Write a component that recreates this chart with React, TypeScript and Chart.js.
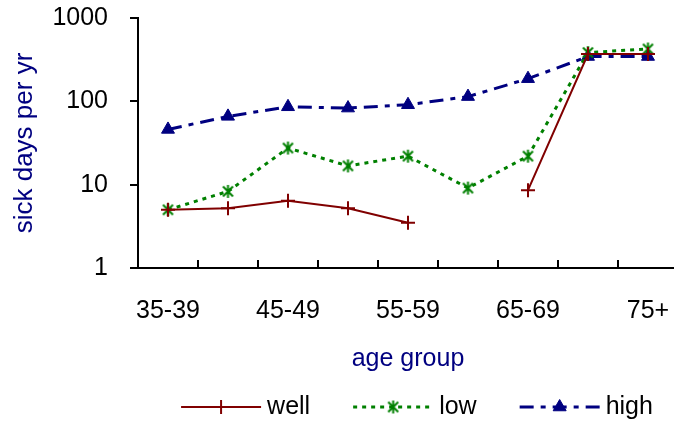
import React, { useEffect, useRef } from 'react';
import { Chart, registerables } from 'chart.js';
import { drawPoint } from 'chart.js/helpers';

Chart.register(...registerables);

const categories = ['35-39', '40-44', '45-49', '50-54', '55-59', '60-64', '65-69', '70-74', '75+'];
const shownXLabels = ['35-39', '45-49', '55-59', '65-69', '75+'];
const wellValues = [5, 5.2, 6.4, 5.2, 3.5, null, 8.6, 370, 370];
const lowValues = [5, 8.3, 27.5, 16.8, 22, 9.1, 22, 385, 425];
const highValues = [46, 66, 86, 83, 91, 114, 187, 345, 345];
const yTickValues = [1, 10, 100, 1000];
const seriesNames = ['well', 'low', 'high'];

const FONT = "'Liberation Sans', Arial, sans-serif";
const CANVAS_W = 687;
const CANVAS_H = 425;
const PLOT_LEFT = 138;
const PLOT_BOTTOM = 268;
const TRANSPARENT = 'rgba(0,0,0,0)';

function makeAsterisk(color: string): HTMLCanvasElement {
  const size = 15;
  const c = document.createElement('canvas');
  c.width = size;
  c.height = size;
  const g = c.getContext('2d')!;
  g.strokeStyle = color;
  g.lineWidth = 2;
  const m = size / 2;
  const r = 6.5;
  const d = 5;
  g.beginPath();
  g.moveTo(m, m - r);
  g.lineTo(m, m + r);
  g.moveTo(m - d, m - d);
  g.lineTo(m + d, m + d);
  g.moveTo(m + d, m - d);
  g.lineTo(m - d, m + d);
  g.stroke();
  return c;
}

export default function App() {
  const ref = useRef<HTMLCanvasElement>(null);

  useEffect(() => {
    if (!ref.current) return;
    const asterisk = makeAsterisk('#008000');

    const customPlugin = {
      id: 'customDecor',
      afterDraw(chart: any) {
        const ctx = chart.ctx as CanvasRenderingContext2D;
        const xs = chart.scales.x;
        const ys = chart.scales.y;
        const area = chart.chartArea;
        ctx.save();
        ctx.strokeStyle = '#000';
        ctx.lineWidth = 2;
        ctx.beginPath();
        // x tick marks pointing inward, at category boundaries
        for (let i = 0; i <= categories.length; i++) {
          const px = Math.round(xs.getPixelForValue(i - 0.5));
          ctx.moveTo(px, area.bottom);
          ctx.lineTo(px, area.bottom - 8);
        }
        // y tick marks pointing outward
        yTickValues.forEach((v) => {
          const py = Math.round(ys.getPixelForValue(v));
          ctx.moveTo(area.left - 8, py);
          ctx.lineTo(area.left, py);
        });
        ctx.stroke();

        // legend
        ctx.font = `25px ${FONT}`;
        const lineLen = 80;
        const textGap = 6;
        const itemGap = 43;
        const widths = seriesNames.map((n) => lineLen + textGap + ctx.measureText(n).width);
        const total = widths.reduce((a, b) => a + b, 0) + itemGap * (seriesNames.length - 1);
        const center = (area.left + area.right) / 2 + 9;
        let x0 = center - total / 2;
        const ly = 407;
        chart.data.datasets.forEach((ds: any, i: number) => {
          ctx.save();
          ctx.strokeStyle = ds.borderColor;
          ctx.lineWidth = ds.borderWidth;
          ctx.setLineDash(ds.borderDash || []);
          ctx.beginPath();
          ctx.moveTo(x0, ly);
          ctx.lineTo(x0 + lineLen, ly);
          ctx.stroke();
          ctx.setLineDash([]);
          ctx.fillStyle = ds.pointBackgroundColor || ds.borderColor;
          ctx.strokeStyle = ds.pointBorderColor || ds.borderColor;
          ctx.lineWidth = ds.pointBorderWidth;
          drawPoint(ctx, { pointStyle: ds.pointStyle, radius: ds.pointRadius, rotation: 0, borderWidth: ds.pointBorderWidth } as any, x0 + lineLen / 2, ly);
          ctx.restore();
          ctx.fillStyle = '#000';
          ctx.textBaseline = 'alphabetic';
          ctx.textAlign = 'left';
          ctx.font = `25px ${FONT}`;
          ctx.fillText(seriesNames[i], x0 + lineLen + textGap, ly + 7);
          x0 += widths[i] + itemGap;
        });
        ctx.restore();
      },
    };

    const chart = new Chart(ref.current, {
      type: 'line',
      data: {
        labels: categories,
        datasets: [
          {
            label: seriesNames[0],
            data: wellValues,
            borderColor: '#800000',
            backgroundColor: '#800000',
            borderWidth: 2,
            pointStyle: 'cross',
            pointRadius: 7,
            pointBorderWidth: 2,
            pointBorderColor: '#800000',
            pointBackgroundColor: '#800000',
            spanGaps: false,
            tension: 0,
          },
          {
            label: seriesNames[1],
            data: lowValues,
            borderColor: '#008000',
            backgroundColor: '#008000',
            borderWidth: 3,
            borderDash: [4, 5],
            pointStyle: asterisk,
            pointRadius: 7,
            pointBorderWidth: 2,
            pointBorderColor: '#008000',
            pointBackgroundColor: '#008000',
            tension: 0,
          },
          {
            label: seriesNames[2],
            data: highValues,
            borderColor: '#000080',
            backgroundColor: '#000080',
            borderWidth: 3,
            borderDash: [14, 7, 5, 7],
            pointStyle: 'triangle',
            pointRadius: 7.5,
            pointBorderWidth: 1,
            pointBorderColor: '#000080',
            pointBackgroundColor: '#000080',
            tension: 0,
          },
        ] as any,
      },
      options: {
        responsive: false,
        animation: false,
        layout: { padding: { top: 18, right: 2, left: 0, bottom: 0 } },
        plugins: {
          legend: { display: false },
          tooltip: { enabled: false },
        },
        scales: {
          x: {
            type: 'category',
            offset: true,
            grid: {
              display: true,
              drawOnChartArea: false,
              drawTicks: true,
              tickLength: 28,
              color: TRANSPARENT,
              tickColor: TRANSPARENT,
            },
            border: { display: true, color: '#000', width: 2 },
            ticks: {
              autoSkip: false,
              maxRotation: 0,
              padding: 0,
              color: '#000',
              font: { size: 25, family: FONT },
              callback: (_v: any, i: number) => (shownXLabels.includes(categories[i]) ? categories[i] : ''),
            },
            title: {
              display: true,
              text: 'age group',
              color: '#000080',
              font: { size: 25, family: FONT },
              padding: { top: 0, bottom: 51 },
            },
            afterFit: (s: any) => {
              s.height = CANVAS_H - PLOT_BOTTOM;
            },
          },
          y: {
            type: 'logarithmic',
            min: 1,
            max: 1000,
            position: 'left',
            afterBuildTicks: (s: any) => {
              s.ticks = yTickValues.map((v) => ({ value: v }));
            },
            grid: {
              display: true,
              drawOnChartArea: false,
              drawTicks: true,
              tickLength: 30,
              color: TRANSPARENT,
              tickColor: TRANSPARENT,
            },
            border: { display: true, color: '#000', width: 2 },
            ticks: {
              padding: 0,
              color: '#000',
              font: { size: 25, family: FONT },
              callback: (v: any) => String(v),
            },
            title: {
              display: true,
              text: 'sick days per yr',
              color: '#000080',
              font: { size: 26, family: FONT },
              padding: { top: 9, bottom: 0 },
            },
            afterFit: (s: any) => {
              s.width = PLOT_LEFT;
            },
          },
        },
      } as any,
      plugins: [customPlugin],
    });
    return () => chart.destroy();
  }, []);

  return (
    <div style={{ position: 'fixed', left: 0, top: 0, width: CANVAS_W, height: CANVAS_H }}>
      <canvas ref={ref} width={CANVAS_W} height={CANVAS_H} style={{ width: CANVAS_W, height: CANVAS_H, display: 'block' }} />
    </div>
  );
}
